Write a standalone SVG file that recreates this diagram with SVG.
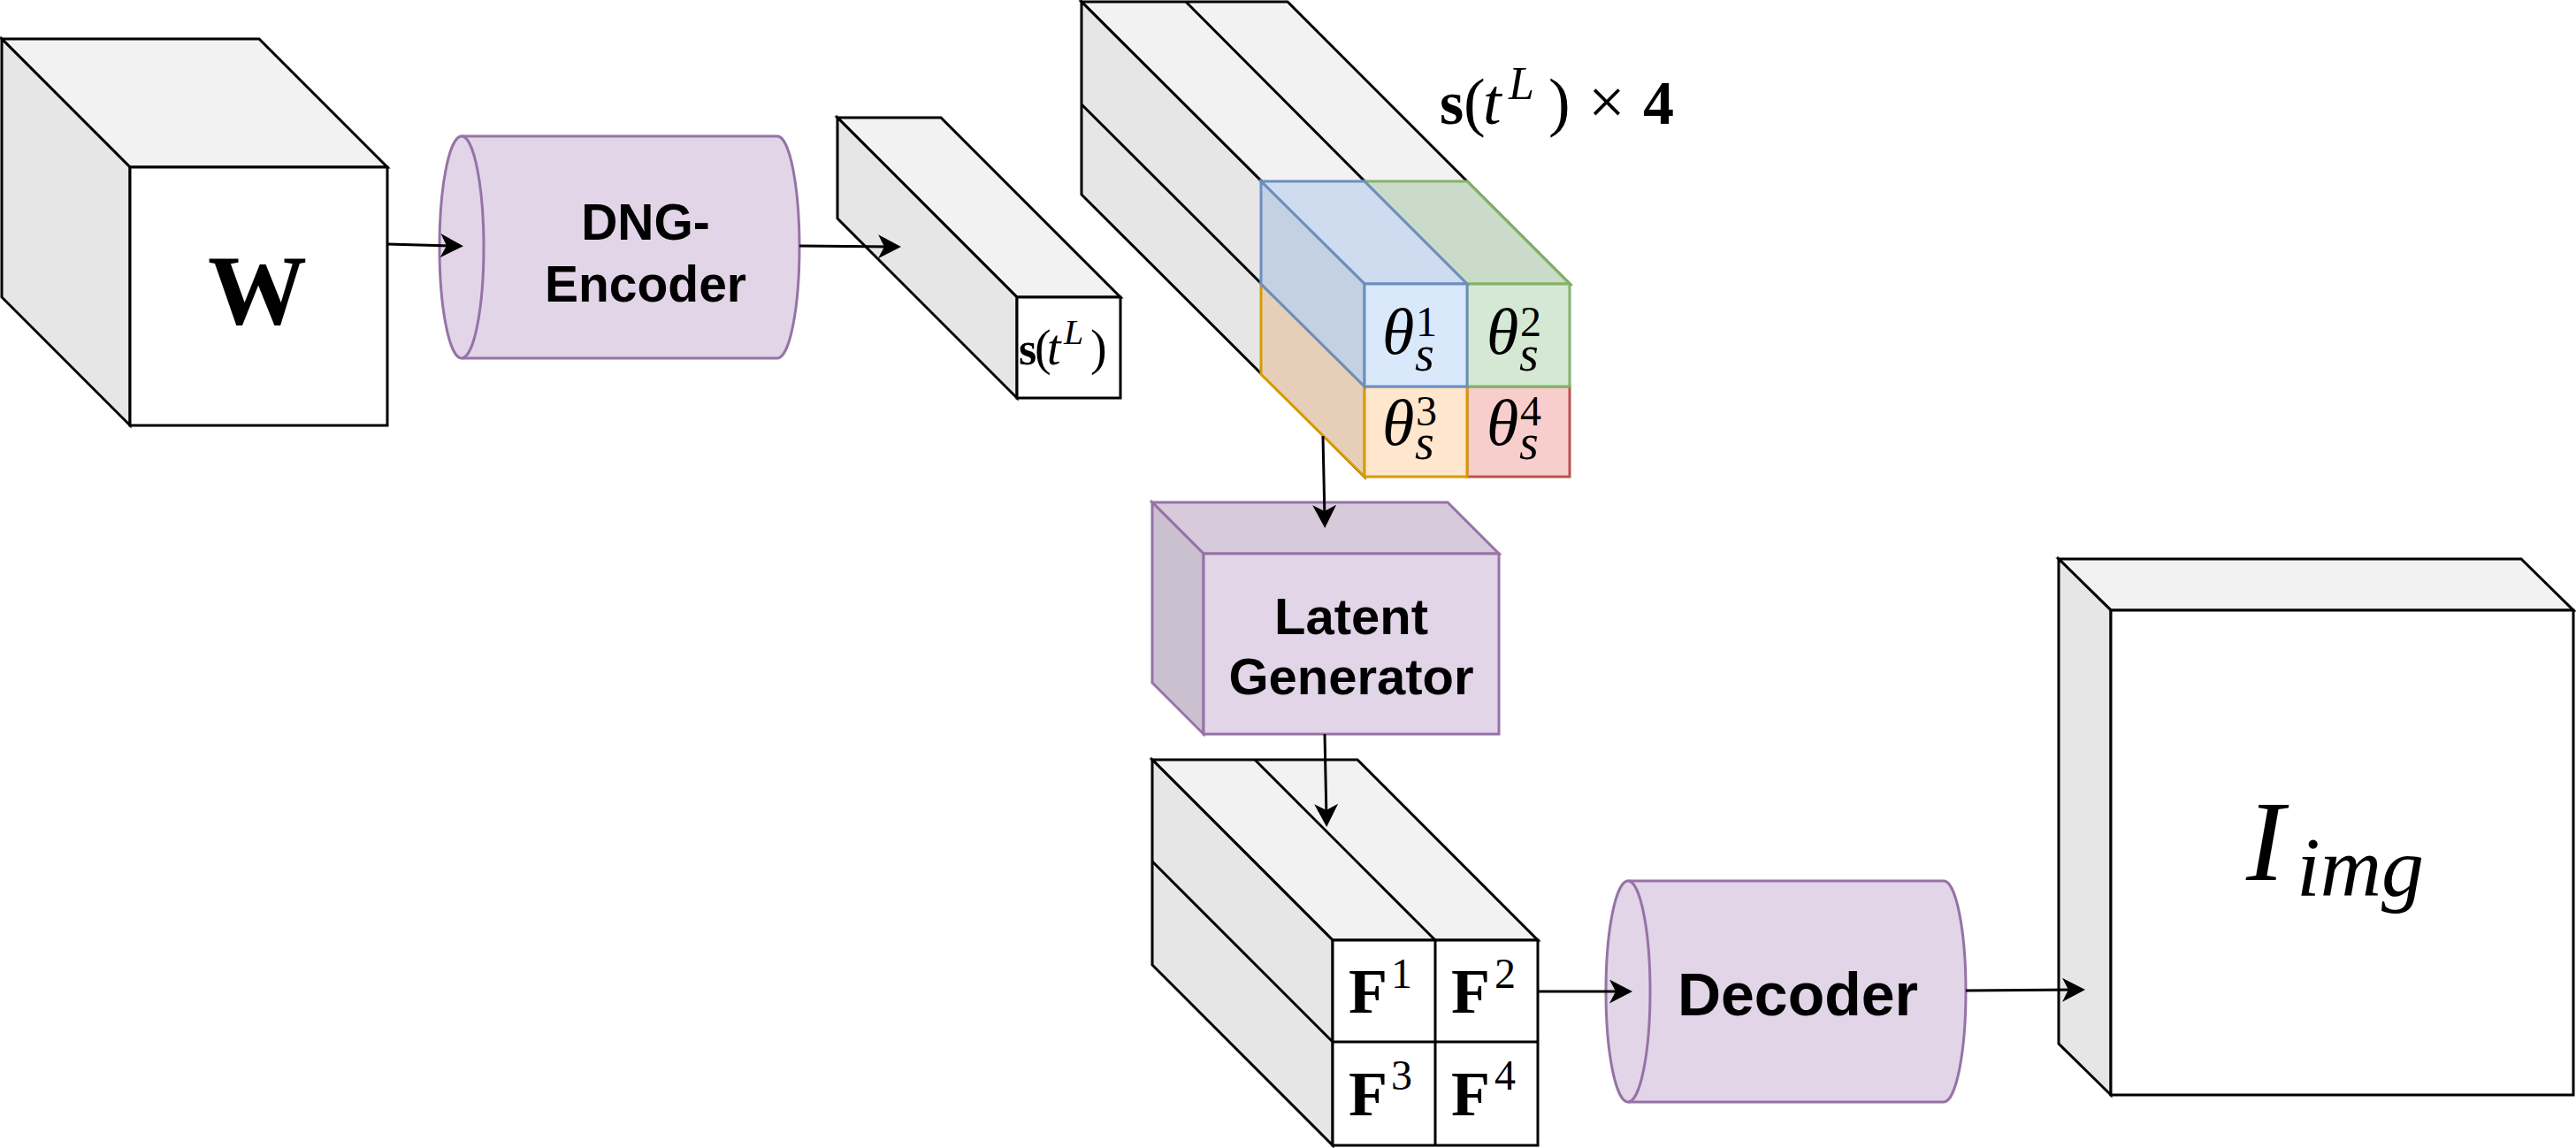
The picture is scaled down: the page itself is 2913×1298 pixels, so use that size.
<svg xmlns="http://www.w3.org/2000/svg" width="2913" height="1298" viewBox="0 0 2913 1298">
<style>
.k{stroke:#000;stroke-width:3;stroke-linejoin:miter}
.top{fill:#f2f2f2}
.side{fill:#e6e6e6}
.face{fill:#fff}
.pu{stroke:#9673a6;stroke-width:3}
.sans{font-family:"Liberation Sans",Arial,sans-serif;font-weight:bold;fill:#000}
.m{font-family:"Liberation Serif","Times New Roman",serif;fill:#000}
.i{font-style:italic}
.b{font-weight:bold}
.conn{stroke:#000;stroke-width:3;fill:none}
</style>
<defs>
<marker id="arr" markerWidth="27" markerHeight="28" refX="16" refY="13.5" orient="auto" markerUnits="userSpaceOnUse">
<path d="M0,0 L26,13.5 L0,27 L7,13.5 Z" fill="#000"/>
</marker>
</defs>
<rect width="2913" height="1298" fill="#fff"/>

<g id="node-W">
<polygon class="k top" points="2,44 293,44 438,189 147,189"/>
<polygon class="k side" points="2,44 147,189 147,481 2,336"/>
<rect class="k face" x="147" y="189" width="291" height="292"/>
<text class="m b" x="291" y="366" font-size="112" text-anchor="middle">W</text>
</g>

<g id="node-encoder">
<path class="pu" fill="#e1d5e7" d="M522,154 L879,154 A25,125.5 0 0 1 879,405 L522,405 A25,125.5 0 0 1 522,154 Z"/>
<path class="pu" fill="none" d="M522,154 A25,125.5 0 0 1 522,405"/>
<text class="sans" x="730" y="271" font-size="57" text-anchor="middle">DNG-</text>
<text class="sans" x="730" y="341" font-size="57" text-anchor="middle">Encoder</text>
</g>

<g id="node-s">
<polygon class="k top" points="947,133 1064,133 1267,336 1150,336"/>
<polygon class="k side" points="947,133 1150,336 1150,450 947,247"/>
<rect class="k face" x="1150" y="336" width="117" height="114"/>
<text class="m" font-size="56" y="412"><tspan x="1152" class="b" font-size="52">s</tspan><tspan x="1170">(</tspan><tspan x="1184" class="i">t</tspan><tspan x="1203" y="389" class="i" font-size="40">L</tspan><tspan x="1233" y="412">)</tspan></text>
</g>

<g id="node-stack">
<polygon class="k top" points="1223,2 1456,2 1775,321 1543,321"/>
<line class="k" x1="1341" y1="2" x2="1659" y2="321"/>
<polygon class="k side" points="1223,2 1543,321 1543,539 1223,220"/>
<line class="k" x1="1223" y1="118" x2="1543" y2="437"/>
<rect x="1659" y="437" width="116" height="102" fill="#f8cecc" stroke="#b85450" stroke-width="3"/>
<polygon points="1426,321 1543,437 1543,539 1426,423" fill="#e6cfb8" stroke="#d79b00" stroke-width="3"/>
<rect x="1543" y="437" width="116" height="102" fill="#ffe6cc" stroke="#d79b00" stroke-width="3"/>
<polygon points="1543,205 1659,205 1775,321 1659,321" fill="#cadcc9" stroke="#82b366" stroke-width="3"/>
<rect x="1659" y="321" width="116" height="116" fill="#d5e8d4" stroke="#82b366" stroke-width="3"/>
<polygon points="1426,205 1543,205 1659,321 1543,321" fill="#cfdcef" stroke="#6c8ebf" stroke-width="3"/>
<polygon points="1426,205 1543,321 1543,437 1426,321" fill="#c4d1e3" stroke="#6c8ebf" stroke-width="3"/>
<rect x="1543" y="321" width="116" height="116" fill="#dae8fc" stroke="#6c8ebf" stroke-width="3"/>
<text class="m" font-size="74"><tspan x="1628" y="140" class="b" font-size="70">s</tspan><tspan x="1655">(</tspan><tspan x="1677" class="i">t</tspan><tspan x="1706" y="112" class="i" font-size="52">L</tspan><tspan x="1751" y="140">)</tspan><tspan x="1796">×</tspan><tspan x="1858" class="b" font-size="70">4</tspan></text>
<text class="m" font-size="74"><tspan x="1563" y="400" class="i">θ</tspan><tspan x="1601" y="380" font-size="48">1</tspan><tspan x="1600" y="419" class="i" font-size="56">s</tspan></text>
<text class="m" font-size="74"><tspan x="1681" y="400" class="i">θ</tspan><tspan x="1719" y="380" font-size="48">2</tspan><tspan x="1718" y="419" class="i" font-size="56">s</tspan></text>
<text class="m" font-size="74"><tspan x="1563" y="503" class="i">θ</tspan><tspan x="1601" y="481" font-size="48">3</tspan><tspan x="1600" y="519" class="i" font-size="56">s</tspan></text>
<text class="m" font-size="74"><tspan x="1681" y="503" class="i">θ</tspan><tspan x="1719" y="481" font-size="48">4</tspan><tspan x="1718" y="519" class="i" font-size="56">s</tspan></text>
</g>

<g id="node-latent">
<polygon class="pu" fill="#d6cadb" points="1303,568 1637,568 1695,626 1361,626"/>
<polygon class="pu" fill="#cbc0d0" points="1303,568 1361,626 1361,830 1303,772"/>
<rect class="pu" fill="#e1d5e7" x="1361" y="626" width="334" height="204"/>
<text class="sans" x="1528" y="717" font-size="58" text-anchor="middle">Latent</text>
<text class="sans" x="1528" y="785" font-size="58" text-anchor="middle">Generator</text>
</g>

<g id="node-F">
<polygon class="k top" points="1303,859 1535,859 1739,1063 1507,1063"/>
<line class="k" x1="1419" y1="859" x2="1623" y2="1063"/>
<polygon class="k side" points="1303,859 1507,1063 1507,1295 1303,1091"/>
<line class="k" x1="1303" y1="974" x2="1507" y2="1178"/>
<rect class="k face" x="1507" y="1063" width="232" height="232"/>
<line class="k" x1="1623" y1="1063" x2="1623" y2="1295"/>
<line class="k" x1="1507" y1="1178" x2="1739" y2="1178"/>
<text class="m" font-size="72"><tspan x="1525" y="1145" class="b">F</tspan><tspan x="1573" y="1117" font-size="48">1</tspan></text>
<text class="m" font-size="72"><tspan x="1641" y="1145" class="b">F</tspan><tspan x="1690" y="1117" font-size="48">2</tspan></text>
<text class="m" font-size="72"><tspan x="1525" y="1261" class="b">F</tspan><tspan x="1573" y="1232" font-size="48">3</tspan></text>
<text class="m" font-size="72"><tspan x="1641" y="1261" class="b">F</tspan><tspan x="1690" y="1232" font-size="48">4</tspan></text>
</g>

<g id="node-decoder">
<path class="pu" fill="#e1d5e7" d="M1841,996 L2198,996 A25,125 0 0 1 2198,1246 L1841,1246 A25,125 0 0 1 1841,996 Z"/>
<path class="pu" fill="none" d="M1841,996 A25,125 0 0 1 1841,1246"/>
<text class="sans" x="2033" y="1148" font-size="68" text-anchor="middle">Decoder</text>
</g>

<g id="node-Iimg">
<polygon class="k top" points="2328,632 2851,632 2910,690 2387,690"/>
<polygon class="k side" points="2328,632 2387,690 2387,1238 2328,1180"/>
<rect class="k face" x="2387" y="690" width="523" height="548"/>
<text class="m i"><tspan x="2540" y="995" font-size="130">I</tspan><tspan x="2597" y="1013" font-size="96">img</tspan></text>
</g>

<g id="connectors">
<path class="conn" d="M438,276 L514,278" marker-end="url(#arr)"/>
<path class="conn" d="M904,278 L1009,279" marker-end="url(#arr)"/>
<path class="conn" d="M1496,493 L1498,587" marker-end="url(#arr)"/>
<path class="conn" d="M1498,830 L1500,925" marker-end="url(#arr)"/>
<path class="conn" d="M1739,1121 L1836,1121" marker-end="url(#arr)"/>
<path class="conn" d="M2223,1120 L2348,1119" marker-end="url(#arr)"/>
</g>
</svg>
